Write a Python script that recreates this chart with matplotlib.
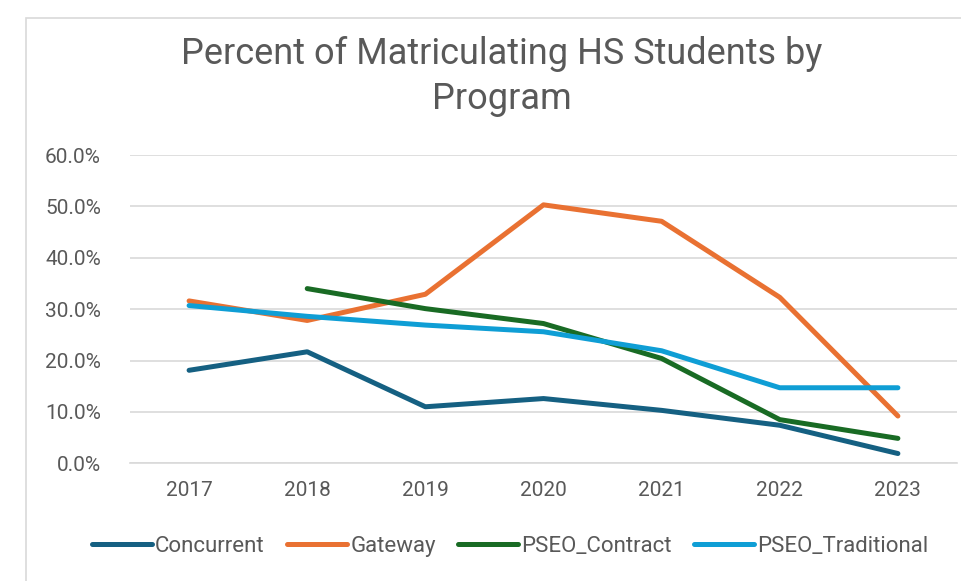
import matplotlib.pyplot as plt
from matplotlib.patches import Rectangle
from matplotlib.ticker import PercentFormatter
import numpy as np

plt.rcParams['font.family'] = ['Roboto', 'DejaVu Sans']

# Data (percent)
years = ['2017', '2018', '2019', '2020', '2021', '2022', '2023']
concurrent = [18.1, 21.7, 11.0, 12.6, 10.3, 7.4, 1.9]
gateway = [31.6, 27.8, 32.9, 50.3, 47.1, 32.3, 9.2]
pseo_contract = [np.nan, 34.0, 30.1, 27.2, 20.4, 8.5, 4.85]
pseo_traditional = [30.7, 28.6, 26.9, 25.6, 21.9, 14.7, 14.7]

series = [
    ('Concurrent', concurrent, '#156082'),
    ('Gateway', gateway, '#E97132'),
    ('PSEO_Contract', pseo_contract, '#196B24'),
    ('PSEO_Traditional', pseo_traditional, '#0F9ED5'),
]

fig = plt.figure(figsize=(9.61, 5.81), dpi=100)
ax = fig.add_axes([0.1353, 0.2026, 0.8605, 0.5306])

# chart frame
fig.patches.append(Rectangle((26 / 961, -0.1), 1.0, 1 - 18 / 581 + 0.1,
                             transform=fig.transFigure, fill=False,
                             edgecolor='#D9D9D9', linewidth=1.2))

x = np.arange(len(years))
for name, vals, col in series:
    ax.plot(x, vals, color=col, lw=3.6, solid_capstyle='round',
            solid_joinstyle='round', label=name)

ax.set_xlim(-0.5, len(years) - 0.5)
ax.set_ylim(0, 60)
ax.set_yticks(np.arange(0, 61, 10))
ax.yaxis.set_major_formatter(PercentFormatter(decimals=1))
ax.set_xticks(x)
ax.set_xticklabels(years)
ax.grid(axis='y', color='#D9D9D9', lw=1.2)
ax.set_axisbelow(True)
for s in ax.spines.values():
    s.set_visible(False)
ax.spines['bottom'].set_visible(True)
ax.spines['bottom'].set_color('#D9D9D9')
ax.spines['bottom'].set_linewidth(1.2)
ax.tick_params(length=0, labelsize=15, labelcolor='#595959')
ax.tick_params(axis='y', pad=21)
ax.tick_params(axis='x', pad=13)

fig.text(0.522, 0.938, 'Percent of Matriculating HS Students by\nProgram',
         ha='center', va='top', fontsize=26, color='#595959', linespacing=1.33)

fig.legend(loc='center', bbox_to_anchor=(0.531, 0.060), ncol=4, frameon=False,
           fontsize=16, labelcolor='#595959', handlelength=2.7,
           handletextpad=0.15, columnspacing=1.0)

fig.savefig('out.png', dpi=100)
